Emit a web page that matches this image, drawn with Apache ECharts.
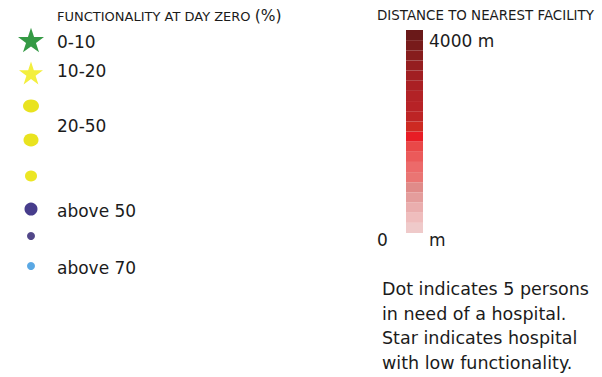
<!DOCTYPE html>
<html>
<head>
<meta charset="utf-8">
<style>
html,body{margin:0;padding:0;background:#fff;}
#c{width:602px;height:377px;}
</style>
<script src="https://cdn.jsdelivr.net/npm/echarts@6/dist/echarts.min.js"></script>
</head>
<body>
<div id="c"></div>
<script>
// ---- data ----
const functionalityTitle = 'FUNCTIONALITY AT DAY ZERO';
const functionalityUnit = '(%)';
const functionalityKeys = ['0-10', '10-20', '20-50 a', '20-50 b', '20-50 c', 'above 50 a', 'above 50 b', 'above 70'];
const functionalityLabels = ['0-10', '10-20', '20-50', 'above 50', 'above 70'];
const distanceTitle = 'DISTANCE TO NEAREST FACILITY';
const distanceBands = [200, 200, 200, 200, 200, 200, 200, 200, 200, 200, 200, 200, 200, 200, 200, 200, 200, 200, 200, 200];
const distanceTickLabels = ['4000 m', '0', 'm'];
const noteLines = ['Dot indicates 5 persons', 'in need of a hospital.', 'Star indicates hospital', 'with low functionality.'];

// ---- styles (not data) ----
const STAR = 'path://M50 0 L61.23 34.55 L97.55 34.55 L68.17 55.9 L79.39 90.45 L50 69.1 L20.61 90.45 L31.83 55.9 L2.45 34.55 L38.77 34.55 Z';
const keyStyles = [
  { symbol: STAR, size: 26, color: '#359a45', offset: 0 },
  { symbol: STAR, size: 24, color: '#f3ef3e', offset: 0.7 },
  { symbol: 'circle', size: [16, 13], color: '#e9e31f', offset: 1.4 },
  { symbol: 'circle', size: [15, 13], color: '#e9e31f', offset: 3.1 },
  { symbol: 'circle', size: [12, 11], color: '#ece624', offset: 6.9 },
  { symbol: 'circle', size: 13, color: '#473d8c', offset: 7.6 },
  { symbol: 'circle', size: 8, color: '#524789', offset: 2.3 },
  { symbol: 'circle', size: 8, color: '#5aa8e4', offset: 0 }
];
const labelY = [42, 71, 126, 211, 268];
const bandColors = ['#efcaca', '#efbdbd', '#eaaeae', '#e49d9c', '#e08b89', '#ea7573', '#ec6a6a', '#eb5a5a', '#e94848', '#e81d25',
                    '#cd2a22', '#bd2425', '#b72226', '#b22226', '#aa2024', '#a11f22', '#951e20', '#871d1d', '#781b1b', '#6a1919'];
const FONT = '"DejaVu Sans", sans-serif';
const TXT = '#1b1b1b';

const chart = echarts.init(document.getElementById('c'), null, { renderer: 'svg' });

const barSeries = distanceBands.map((v, i) => ({
  type: 'bar', xAxisIndex: 1, yAxisIndex: 1, stack: 'dist',
  data: [v], barWidth: '100%', silent: true,
  itemStyle: { color: bandColors[i] }
}));

const graphics = [];
graphics.push({ type: 'text', x: 57, y: 16, style: {
  text: '{a|' + functionalityTitle + ' }{b|' + functionalityUnit + '}',
  fontFamily: FONT, fill: TXT, verticalAlign: 'middle',
  rich: { a: { fontSize: 13, fontFamily: FONT, fill: TXT, color: TXT }, b: { fontSize: 15.5, fontFamily: FONT, fill: TXT, color: TXT } }
} });
functionalityLabels.forEach((t, i) => graphics.push({ type: 'text', x: 57, y: labelY[i], style: { text: t, fontSize: 17, fontFamily: FONT, fill: TXT, verticalAlign: 'middle' } }));
graphics.push({ type: 'text', x: 377, y: 15, style: { text: distanceTitle, fontSize: 13.4, fontFamily: FONT, fill: TXT, verticalAlign: 'middle' } });
graphics.push({ type: 'text', x: 429, y: 41, style: { text: distanceTickLabels[0], fontSize: 17, fontFamily: FONT, fill: TXT, verticalAlign: 'middle' } });
graphics.push({ type: 'text', x: 377, y: 240, style: { text: distanceTickLabels[1], fontSize: 17, fontFamily: FONT, fill: TXT, verticalAlign: 'middle' } });
graphics.push({ type: 'text', x: 429, y: 240, style: { text: distanceTickLabels[2], fontSize: 17, fontFamily: FONT, fill: TXT, verticalAlign: 'middle' } });
noteLines.forEach((t, i) => graphics.push({ type: 'text', x: 382, y: 289 + i * 24.5, style: { text: t, fontSize: 17.5, fontFamily: FONT, fill: TXT, verticalAlign: 'middle' } }));

chart.setOption({
  animation: false,
  backgroundColor: '#ffffff',
  grid: [
    { left: 21, top: 40, width: 20, height: 226 },
    { left: 406, top: 30, width: 17, height: 203 }
  ],
  xAxis: [
    { type: 'category', gridIndex: 0, data: ['key'], show: false },
    { type: 'category', gridIndex: 1, data: ['distance'], show: false }
  ],
  yAxis: [
    { type: 'category', gridIndex: 0, data: functionalityKeys, inverse: true, boundaryGap: false, show: false },
    { type: 'value', gridIndex: 1, min: 0, max: 4000, show: false }
  ],
  series: [
    {
      type: 'scatter', xAxisIndex: 0, yAxisIndex: 0, silent: true,
      symbolKeepAspect: true,
      data: functionalityKeys.map((k, i) => ({
        value: ['key', k],
        symbol: keyStyles[i].symbol,
        symbolSize: keyStyles[i].size,
        symbolOffset: [0, keyStyles[i].offset],
        symbolKeepAspect: true,
        itemStyle: { color: keyStyles[i].color, opacity: 1 }
      }))
    }
  ].concat(barSeries),
  graphic: graphics
});
</script>
</body>
</html>
